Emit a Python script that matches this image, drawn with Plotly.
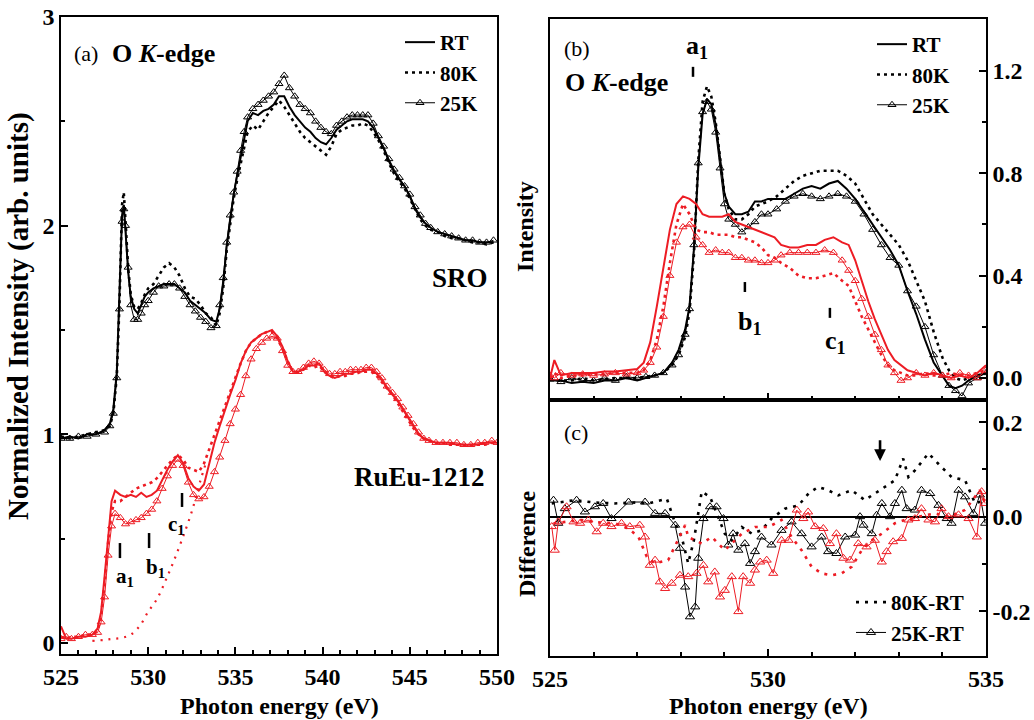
import plotly.graph_objects as go

# ---------------- Panel (a) : O K-edge, SRO (black) and RuEu-1212 (red) ----------------
a_sro_x = [525.0, 525.5, 526.0, 526.5, 527.0, 527.5, 527.8, 528.0, 528.2, 528.35,
           528.5, 528.6, 528.7, 528.85, 529.0, 529.2, 529.4, 529.6, 529.8, 530.0,
           530.3, 530.6, 530.9, 531.2, 531.5, 531.8, 532.1, 532.4, 532.7, 533.0,
           533.3, 533.6, 533.9, 534.1, 534.3, 534.5, 534.7, 534.9, 535.1, 535.3,
           535.5, 535.7, 536.0, 536.3, 536.6, 536.9, 537.2, 537.5, 537.8, 538.1,
           538.4, 538.7, 539.0, 539.3, 539.6, 539.9, 540.2, 540.5, 540.8, 541.1,
           541.4, 541.7, 542.0, 542.3, 542.6, 542.9, 543.2, 543.5, 543.8, 544.1,
           544.4, 544.7, 545.0, 545.3, 545.6, 545.9, 546.2, 546.6, 547.0, 547.4,
           547.8, 548.2, 548.6, 549.0, 549.4, 549.8]
a_sro_rt = [0.98, 0.99, 0.98, 1.00, 1.00, 1.02, 1.05, 1.12, 1.30, 1.65,
            2.05, 2.10, 1.98, 1.78, 1.66, 1.60, 1.58, 1.62, 1.66, 1.68,
            1.70, 1.71, 1.72, 1.72, 1.72, 1.70, 1.68, 1.64, 1.62, 1.60,
            1.58, 1.55, 1.54, 1.60, 1.72, 1.90, 2.04, 2.15, 2.24, 2.33,
            2.42, 2.50, 2.54, 2.53, 2.55, 2.56, 2.58, 2.62, 2.62, 2.57,
            2.53, 2.50, 2.47, 2.45, 2.42, 2.40, 2.39, 2.42, 2.46, 2.48,
            2.50, 2.51, 2.51, 2.51, 2.50, 2.47, 2.42, 2.37, 2.31, 2.26,
            2.22, 2.19, 2.14, 2.08, 2.04, 2.01, 1.99, 1.97, 1.96, 1.95,
            1.94, 1.93, 1.93, 1.92, 1.92, 1.92]
a_sro_80 = [0.99, 0.98, 0.99, 1.00, 1.01, 1.02, 1.04, 1.10, 1.28, 1.62,
            2.10, 2.16, 2.02, 1.80, 1.67, 1.61, 1.60, 1.63, 1.67, 1.70,
            1.72, 1.76, 1.80, 1.82, 1.80, 1.76, 1.70, 1.66, 1.65, 1.62,
            1.58, 1.56, 1.52, 1.58, 1.70, 1.88, 2.02, 2.13, 2.22, 2.30,
            2.38, 2.45, 2.48, 2.46, 2.50, 2.54, 2.57, 2.60, 2.57, 2.53,
            2.49, 2.45, 2.42, 2.40, 2.38, 2.36, 2.34, 2.38, 2.44, 2.46,
            2.47, 2.48, 2.48, 2.49, 2.48, 2.45, 2.41, 2.36, 2.30, 2.25,
            2.21, 2.18, 2.13, 2.08, 2.03, 2.00, 1.98, 1.97, 1.95, 1.94,
            1.94, 1.93, 1.92, 1.92, 1.91, 1.92]
a_sro_25 = [0.98, 0.98, 0.99, 0.99, 1.00, 1.01, 1.04, 1.10, 1.27, 1.60,
            2.02, 2.08, 2.00, 1.80, 1.62, 1.55, 1.55, 1.58, 1.62, 1.64,
            1.68, 1.71, 1.71, 1.72, 1.72, 1.70, 1.66, 1.62, 1.59, 1.56,
            1.54, 1.51, 1.52, 1.62, 1.75, 1.92, 2.05, 2.16, 2.26, 2.36,
            2.45, 2.52, 2.56, 2.58, 2.60, 2.62, 2.64, 2.68, 2.72, 2.66,
            2.62, 2.58, 2.56, 2.54, 2.50, 2.47, 2.45, 2.44, 2.48, 2.50,
            2.52, 2.53, 2.53, 2.53, 2.53, 2.49, 2.43, 2.38, 2.32, 2.27,
            2.23, 2.19, 2.15, 2.09, 2.05, 2.01, 1.99, 1.97, 1.96, 1.95,
            1.94, 1.93, 1.93, 1.92, 1.92, 1.93]

a_ru_x = [525.0, 525.3, 525.6, 526.0, 526.4, 526.8, 527.1, 527.3, 527.5, 527.7,
          527.9, 528.1, 528.4, 528.7, 529.0, 529.3, 529.6, 529.9, 530.2, 530.5,
          530.8, 531.1, 531.4, 531.7, 532.0, 532.3, 532.6, 532.9, 533.2, 533.5,
          533.8, 534.1, 534.4, 534.7, 535.0, 535.3, 535.6, 535.9, 536.2, 536.5,
          536.8, 537.1, 537.4, 537.7, 538.0, 538.3, 538.6, 538.9, 539.2, 539.5,
          539.8, 540.1, 540.4, 540.7, 541.0, 541.3, 541.6, 541.9, 542.2, 542.5,
          542.8, 543.1, 543.4, 543.7, 544.0, 544.3, 544.6, 544.9, 545.2, 545.5,
          545.8, 546.1, 546.5, 546.9, 547.3, 547.7, 548.1, 548.5, 548.9, 549.3,
          549.7, 550.0]
a_ru_rt = [0.08, 0.02, 0.02, 0.03, 0.03, 0.04, 0.07, 0.15, 0.32, 0.52,
           0.68, 0.73, 0.71, 0.70, 0.71, 0.70, 0.72, 0.70, 0.71, 0.73,
           0.78, 0.83, 0.87, 0.90, 0.86, 0.79, 0.75, 0.73, 0.76, 0.86,
           0.96, 1.04, 1.12, 1.19, 1.26, 1.34, 1.40, 1.44, 1.46, 1.48,
           1.49, 1.50, 1.47, 1.42, 1.35, 1.30, 1.30, 1.31, 1.33, 1.33,
           1.34, 1.30, 1.28, 1.27, 1.28, 1.29, 1.29, 1.30, 1.30, 1.31,
           1.31, 1.29, 1.26, 1.22, 1.19, 1.16, 1.12, 1.08, 1.04, 1.00,
           0.98, 0.97, 0.96, 0.96, 0.96, 0.95, 0.95, 0.95, 0.95, 0.96,
           0.96, 0.96]
a_ru_80 = [0.03, 0.02, 0.03, 0.03, 0.04, 0.04, 0.06, 0.13, 0.28, 0.48,
           0.63, 0.68, 0.68, 0.70, 0.72, 0.74, 0.75, 0.76, 0.77, 0.79,
           0.82, 0.85, 0.88, 0.90, 0.88, 0.84, 0.83, 0.82, 0.86, 0.93,
           1.00, 1.07, 1.13, 1.20, 1.27, 1.34, 1.40, 1.44, 1.46, 1.48,
           1.49, 1.49, 1.46, 1.41, 1.35, 1.30, 1.30, 1.31, 1.33, 1.32,
           1.33, 1.30, 1.28, 1.27, 1.28, 1.28, 1.29, 1.29, 1.30, 1.30,
           1.30, 1.28, 1.25, 1.22, 1.19, 1.15, 1.11, 1.07, 1.03, 1.00,
           0.98, 0.97, 0.96, 0.96, 0.95, 0.95, 0.95, 0.95, 0.95, 0.95,
           0.96, 0.96]
a_ru_25 = [0.02, 0.03, 0.02, 0.03, 0.04, 0.04, 0.05, 0.10, 0.22, 0.42,
           0.56, 0.62, 0.60, 0.57, 0.58, 0.59, 0.60, 0.62, 0.64, 0.68,
           0.74, 0.80, 0.85, 0.88, 0.85, 0.77, 0.71, 0.69, 0.70, 0.75,
           0.82, 0.89, 0.97, 1.05, 1.12, 1.19, 1.28, 1.36, 1.41, 1.44,
           1.46, 1.47, 1.46, 1.40, 1.33, 1.30, 1.30, 1.32, 1.34, 1.35,
           1.34, 1.31, 1.29, 1.29, 1.30, 1.30, 1.31, 1.31, 1.31, 1.32,
           1.32, 1.30, 1.27, 1.23, 1.20, 1.17, 1.13, 1.09, 1.05, 1.01,
           0.98, 0.97, 0.96, 0.96, 0.96, 0.96, 0.95, 0.95, 0.96, 0.96,
           0.97, 0.96]
a_bg_x = [526.8, 527.5, 528.0, 528.5, 529.0, 529.5, 530.0, 530.5, 531.0, 531.5, 532.0, 532.5, 533.0, 533.3]
a_bg_y = [0.01, 0.015, 0.02, 0.025, 0.04, 0.08, 0.15, 0.21, 0.30, 0.40, 0.51, 0.63, 0.78, 0.86]

# ---------------- Panel (b) : Intensity ----------------
b_blk_x = [525.0, 525.25, 525.5, 525.75, 526.0, 526.25, 526.5, 526.75, 527.0, 527.2,
           527.4, 527.6, 527.8, 527.95, 528.1, 528.2, 528.3, 528.4, 528.5, 528.6,
           528.7, 528.8, 528.9, 529.0, 529.1, 529.25, 529.4, 529.55, 529.7, 529.85,
           530.0, 530.2, 530.4, 530.6, 530.8, 531.0, 531.2, 531.4, 531.6, 531.8,
           532.0, 532.2, 532.4, 532.6, 532.8, 533.0, 533.2, 533.4, 533.6, 533.8,
           534.0, 534.15, 534.3, 534.45, 534.6, 534.8, 535.0]
b_blk_rt = [-0.01, -0.01, -0.02, -0.015, -0.02, -0.01, -0.01, 0.0, -0.01, 0.0,
            0.01, 0.02, 0.06, 0.11, 0.19, 0.28, 0.50, 0.82, 1.03, 1.09,
            1.07, 0.99, 0.86, 0.72, 0.67, 0.64, 0.64, 0.65, 0.69, 0.69,
            0.70, 0.70, 0.70, 0.72, 0.74, 0.75, 0.74, 0.76, 0.77, 0.74,
            0.70, 0.65, 0.60, 0.55, 0.50, 0.44, 0.34, 0.25, 0.15, 0.06,
            0.01, -0.03, -0.04, -0.03, -0.01, 0.01, 0.02]
b_blk_80 = [-0.005, -0.01, -0.01, 0.0, -0.01, -0.005, 0.0, 0.0, 0.0, 0.005,
            0.01, 0.02, 0.05, 0.09, 0.16, 0.26, 0.48, 0.85, 1.08, 1.14,
            1.10, 1.00, 0.86, 0.72, 0.66, 0.62, 0.62, 0.64, 0.67, 0.68,
            0.69, 0.71, 0.74, 0.77, 0.79, 0.80, 0.81, 0.81, 0.81, 0.79,
            0.76, 0.70, 0.64, 0.60, 0.56, 0.52, 0.46, 0.38, 0.30, 0.18,
            0.08, 0.03, 0.0, -0.01, 0.0, 0.01, 0.02]
b_blk_25 = [-0.005, -0.015, 0.0, -0.01, -0.01, 0.0, -0.01, 0.005, 0.0, 0.005,
            0.01, 0.02, 0.05, 0.09, 0.17, 0.27, 0.52, 0.84, 1.04, 1.08,
            1.05, 0.96, 0.82, 0.68, 0.62, 0.60, 0.57, 0.59, 0.61, 0.64,
            0.64, 0.66, 0.69, 0.71, 0.72, 0.71, 0.70, 0.71, 0.72, 0.71,
            0.69, 0.64, 0.58, 0.52, 0.47, 0.44, 0.34, 0.28, 0.20, 0.09,
            0.01, -0.03, -0.05, -0.07, -0.02, 0.0, 0.02]

b_red_x = [525.0, 525.1, 525.25, 525.5, 525.75, 526.0, 526.25, 526.5, 526.75, 527.0,
           527.15, 527.3, 527.45, 527.6, 527.75, 527.9, 528.05, 528.2, 528.35, 528.5,
           528.65, 528.8, 528.95, 529.1, 529.25, 529.4, 529.55, 529.7, 529.85, 530.0,
           530.15, 530.3, 530.5, 530.7, 530.9, 531.1, 531.3, 531.5, 531.7, 531.85,
           532.0, 532.15, 532.3, 532.45, 532.6, 532.75, 532.9, 533.05, 533.2, 533.4,
           533.6, 533.8, 534.0, 534.2, 534.4, 534.6, 534.8, 535.0]
b_red_rt = [0.0, 0.07, 0.01, 0.02, 0.02, 0.02, 0.025, 0.025, 0.03, 0.035,
            0.06, 0.14, 0.28, 0.43, 0.58, 0.68, 0.71, 0.70, 0.68, 0.64,
            0.63, 0.63, 0.63, 0.64, 0.61, 0.60, 0.59, 0.58, 0.57, 0.56,
            0.55, 0.52, 0.51, 0.51, 0.52, 0.52, 0.54, 0.55, 0.53, 0.52,
            0.46, 0.38, 0.30, 0.23, 0.17, 0.11, 0.07, 0.05, 0.03, 0.02,
            0.01, 0.02, 0.01, 0.0, 0.01, 0.0, 0.02, 0.05]
b_red_80 = [0.0, 0.02, 0.0, 0.01, 0.01, 0.015, 0.015, 0.02, 0.02, 0.02,
            0.03, 0.07, 0.15, 0.28, 0.45, 0.60, 0.68, 0.64, 0.58, 0.57,
            0.57, 0.56, 0.56, 0.56, 0.55, 0.55, 0.54, 0.53, 0.51, 0.48,
            0.47, 0.45, 0.43, 0.40, 0.39, 0.39, 0.40, 0.41, 0.38, 0.36,
            0.30, 0.24, 0.19, 0.14, 0.09, 0.05, 0.03, 0.02, 0.01, 0.01,
            0.02, 0.01, 0.01, 0.02, 0.01, 0.01, 0.02, 0.03]
b_red_25 = [0.01, 0.0, 0.02, 0.01, 0.015, 0.01, 0.015, 0.02, 0.015, 0.02,
            0.03, 0.06, 0.12, 0.24, 0.40, 0.53, 0.59, 0.60, 0.55, 0.52,
            0.49, 0.50, 0.49, 0.49, 0.47, 0.47, 0.46, 0.46, 0.45, 0.45,
            0.46, 0.48, 0.49, 0.49, 0.49, 0.49, 0.50, 0.49, 0.46, 0.42,
            0.38, 0.31, 0.24, 0.17, 0.11, 0.05, 0.02, -0.01, 0.0, 0.02,
            0.01, 0.02, 0.01, 0.0, 0.02, 0.01, 0.0, 0.03]

# ---------------- Panel (c) : Difference ----------------
c_blk80_x = [525.04, 525.57, 526.0, 526.49, 526.9, 527.26, 527.68, 527.87, 528.02, 528.17,
             528.3, 528.48, 528.67, 528.86, 529.01, 529.17, 529.4, 529.63, 529.85, 530.08,
             530.39, 530.7, 530.93, 531.15, 531.38, 531.61, 531.92, 532.22, 532.45, 532.68,
             532.91, 533.1, 533.22, 533.37, 533.68, 533.98, 534.21, 534.52, 534.75, 534.98]
c_blk80_y = [0.028, 0.035, 0.03, 0.028, 0.03, 0.028, 0.038, -0.014, -0.043, -0.099,
             -0.05, 0.053, 0.042, 0.0, -0.036, -0.05, -0.022, -0.036, -0.029, -0.004,
             0.017, 0.024, 0.049, 0.063, 0.056, 0.045, 0.056, 0.035, 0.049, 0.063,
             0.077, 0.123, 0.084, 0.098, 0.134, 0.105, 0.084, 0.077, 0.028, 0.035]
c_blk25_x = [525.08, 525.19, 525.34, 525.61, 525.80, 526.03, 526.22, 526.41, 526.80, 527.18,
             527.41, 527.64, 527.87, 527.98, 528.10, 528.21, 528.33, 528.40, 528.52, 528.67,
             528.82, 528.98, 529.09, 529.20, 529.32, 529.47, 529.59, 529.70, 529.85, 530.08,
             530.31, 530.54, 530.77, 531.0, 531.23, 531.38, 531.57, 531.77, 532.0, 532.11,
             532.19, 532.38, 532.49, 532.61, 532.80, 532.91, 533.07, 533.18, 533.37, 533.52,
             533.72, 533.91, 534.10, 534.21, 534.37, 534.52, 534.71, 534.86, 534.98]
c_blk25_y = [0.035, -0.014, 0.017, 0.035, 0.01, 0.021, 0.028, -0.004, 0.031, 0.031,
             0.007, 0.007, -0.018, -0.067, -0.149, -0.212, -0.191, -0.088, -0.004, 0.021,
             0.021, -0.004, -0.06, -0.036, -0.071, -0.057, -0.099, -0.074, -0.043, -0.06,
             -0.029, -0.011, -0.036, -0.064, -0.043, -0.074, -0.078, -0.043, -0.039, 0.0,
             -0.018, -0.036, 0.003, 0.028, 0.0, 0.028, 0.056, 0.017, 0.014, 0.056,
             0.049, 0.024, -0.004, -0.014, 0.056, 0.042, 0.007, 0.046, -0.014]
c_red80_x = [525.08, 525.4, 525.73, 526.1, 526.49, 526.8, 527.03, 527.22, 527.41, 527.71,
             527.94, 528.10, 528.17, 528.48, 528.71, 529.01, 529.40, 529.70, 530.01, 530.31,
             530.54, 530.77, 531.0, 531.23, 531.46, 531.69, 531.92, 532.15, 532.38, 532.61,
             532.91, 533.14, 533.45, 533.83, 534.14, 534.52, 534.86, 534.98]
c_red80_y = [-0.014, -0.01, -0.007, -0.012, -0.014, -0.025, -0.043, -0.085, -0.099, -0.092,
             -0.05, -0.018, -0.043, -0.057, -0.043, -0.071, -0.036, -0.022, -0.022, -0.007,
             -0.043, -0.071, -0.106, -0.12, -0.124, -0.12, -0.106, -0.071, -0.05, -0.036,
             -0.014, -0.007, 0.0, 0.007, 0.0, 0.014, 0.056, 0.028]
c_red25_x = [525.04, 525.11, 525.19, 525.38, 525.54, 525.69, 525.88, 526.07, 526.22, 526.41,
             526.64, 526.83, 527.06, 527.18, 527.29, 527.41, 527.52, 527.64, 527.79, 527.98,
             528.17, 528.36, 528.52, 528.63, 528.78, 528.90, 529.01, 529.17, 529.32, 529.43,
             529.59, 529.70, 529.82, 529.97, 530.12, 530.31, 530.47, 530.66, 530.81, 530.92,
             531.08, 531.27, 531.42, 531.57, 531.73, 531.88, 532.07, 532.26, 532.45, 532.61,
             532.72, 532.87, 533.07, 533.22, 533.37, 533.52, 533.68, 533.83, 533.98, 534.14,
             534.37, 534.60, 534.79, 534.90, 534.98]
c_red25_y = [-0.021, -0.071, -0.011, 0.021, -0.011, -0.014, -0.007, -0.032, -0.014, -0.021,
             -0.014, -0.021, -0.018, -0.043, -0.103, -0.092, -0.138, -0.152, -0.141, -0.124,
             -0.127, -0.12, -0.103, -0.138, -0.117, -0.17, -0.156, -0.127, -0.201, -0.127,
             -0.141, -0.113, -0.096, -0.092, -0.12, -0.05, -0.05, 0.014, -0.004, 0.01,
             -0.021, -0.025, -0.057, -0.036, -0.088, -0.092, -0.057, -0.064, -0.05, -0.096,
             -0.074, -0.053, -0.046, -0.007, -0.004, 0.017, -0.007, -0.011, 0.017, 0.0,
             0.004, -0.004, -0.043, 0.053, 0.028]

# ---------------- Tick labels ----------------
a_xticks = [525, 530, 535, 540, 545, 550]
a_yticks = [0, 1, 2, 3]
b_xticks = [525, 530, 535]
b_yticks = [0.0, 0.4, 0.8, 1.2]
b_yticktext = ["0.0", "0.4", "0.8", "1.2"]
c_yticks = [-0.2, 0.0, 0.2]
c_yticktext = ["-0.2", "0.0", "0.2"]

# ---------------- Styling ----------------
FONT = "Liberation Serif"
BLACK = "#000000"
RED = "#ED1C24"

W, H = 1034, 720
ML, MR, MT, MB = 61, 48, 17, 64
PW, PH = W - ML - MR, H - MT - MB


def px(x):
    return (x - ML) / PW


def py(y):
    return (H - MB - y) / PH


fig = go.Figure()


def add_set(x, rt, k80, k25, color, xa, ya, legend, show):
    fig.add_trace(go.Scatter(x=x, y=rt, mode="lines", name="RT", xaxis=xa, yaxis=ya,
                             line=dict(color=color, width=2), legend=legend, showlegend=show))
    fig.add_trace(go.Scatter(x=x, y=k80, mode="lines", name="80K", xaxis=xa, yaxis=ya,
                             line=dict(color=color, width=2.6, dash="3px,4px"),
                             legend=legend, showlegend=show))
    fig.add_trace(go.Scatter(x=x, y=k25, mode="lines+markers", name="25K", xaxis=xa, yaxis=ya,
                             line=dict(color=color, width=1),
                             marker=dict(symbol="triangle-up-open", size=7, color=color,
                                         line=dict(width=1, color=color)),
                             legend=legend, showlegend=show))


add_set(a_sro_x, a_sro_rt, a_sro_80, a_sro_25, BLACK, "x", "y", "legend", True)
add_set(a_ru_x, a_ru_rt, a_ru_80, a_ru_25, RED, "x", "y", "legend", False)
fig.add_trace(go.Scatter(x=a_bg_x, y=a_bg_y, mode="lines", line=dict(color=RED, width=2.2, dash="2px,6px",
                                                                   shape="spline"),
                         xaxis="x", yaxis="y", showlegend=False))

add_set(b_blk_x, b_blk_rt, b_blk_80, b_blk_25, BLACK, "x2", "y2", "legend2", True)
add_set(b_red_x, b_red_rt, b_red_80, b_red_25, RED, "x2", "y2", "legend2", False)

fig.add_trace(go.Scatter(x=c_blk80_x, y=c_blk80_y, mode="lines", name="80K-RT", xaxis="x3", yaxis="y3",
                         line=dict(color=BLACK, width=2.6, dash="3px,6px"), legend="legend3"))
fig.add_trace(go.Scatter(x=c_blk25_x, y=c_blk25_y, mode="lines+markers", name="25K-RT", xaxis="x3", yaxis="y3",
                         line=dict(color=BLACK, width=1),
                         marker=dict(symbol="triangle-up-open", size=8, color=BLACK, line=dict(width=1, color=BLACK)),
                         legend="legend3"))
fig.add_trace(go.Scatter(x=c_red80_x, y=c_red80_y, mode="lines", xaxis="x3", yaxis="y3",
                         line=dict(color=RED, width=2.6, dash="3px,6px"), showlegend=False))
fig.add_trace(go.Scatter(x=c_red25_x, y=c_red25_y, mode="lines+markers", xaxis="x3", yaxis="y3",
                         line=dict(color=RED, width=1),
                         marker=dict(symbol="triangle-up-open", size=8, color=RED, line=dict(width=1, color=RED)),
                         showlegend=False))

tickfont = dict(family=FONT, size=24, color=BLACK, weight="bold")
axis_common = dict(showline=True, linecolor=BLACK, linewidth=1.6, mirror=True, ticks="inside",
                   ticklen=7, tickwidth=1.5, tickcolor=BLACK, showgrid=False, zeroline=False,
                   tickfont=tickfont, automargin=False)


def minor(vals, ln=4):
    return dict(tickmode="array", tickvals=vals, ticks="inside", ticklen=ln, tickwidth=1.5,
                tickcolor=BLACK, showgrid=False)


legend_font = dict(family=FONT, size=21, color=BLACK, weight="bold")

fig.update_layout(
    width=W, height=H, margin=dict(l=ML, r=MR, t=MT, b=MB),
    paper_bgcolor="white", plot_bgcolor="white",
    font=dict(family=FONT, color=BLACK),
    xaxis=dict(domain=[0, px(497)], range=[525, 550], anchor="y", tickmode="array",
               tickvals=a_xticks, ticktext=[str(v) for v in a_xticks],
               minor=minor([v for v in range(526, 550) if v % 5 != 0]), **axis_common),
    yaxis=dict(domain=[py(654), 1], range=[-0.0527, 3], anchor="x", tickmode="array",
               tickvals=a_yticks, ticktext=[str(v) for v in a_yticks],
               minor=minor([0.5, 1.5, 2.5]), **axis_common),
    xaxis2=dict(domain=[px(550), 1], range=[525, 535], anchor="y2", tickmode="array",
                tickvals=b_xticks, showticklabels=False,
                minor=minor([v for v in range(526, 535) if v != 530]), **axis_common),
    yaxis2=dict(domain=[py(400), py(19)], range=[-0.086, 1.403], anchor="x2", side="right",
                tickmode="array", tickvals=b_yticks, ticktext=b_yticktext,
                minor=minor([0.2, 0.6, 1.0]), **axis_common),
    xaxis3=dict(domain=[px(550), 1], range=[525, 535], anchor="y3", tickmode="array",
                tickvals=b_xticks, ticktext=[str(v) for v in b_xticks],
                minor=minor([v for v in range(526, 535) if v != 530]), **axis_common),
    yaxis3=dict(domain=[0, py(400)], range=[-0.295, 0.247], anchor="x3", side="right",
                tickmode="array", tickvals=c_yticks, ticktext=c_yticktext,
                minor=minor([-0.1, 0.1]), **{**axis_common, "zeroline": True},
                zerolinecolor=BLACK, zerolinewidth=2),
    legend=dict(x=px(400), y=py(22), xanchor="left", yanchor="top", bgcolor="rgba(0,0,0,0)",
                font=legend_font, itemwidth=30, tracegroupgap=0),
    legend2=dict(x=px(872), y=py(24), xanchor="left", yanchor="top", bgcolor="rgba(0,0,0,0)",
                 font=legend_font, itemwidth=30, tracegroupgap=0),
    legend3=dict(x=px(851), y=py(582), xanchor="left", yanchor="top", bgcolor="rgba(0,0,0,0)",
                 font=legend_font, itemwidth=30, tracegroupgap=0),
)


def ann(text, x, y, size, bold=True, xanchor="center", angle=0):
    fig.add_annotation(text=text, x=px(x), y=py(y), xref="paper", yref="paper", showarrow=False,
                       xanchor=xanchor, yanchor="middle", textangle=angle,
                       font=dict(family=FONT, size=size, color=BLACK, weight="bold" if bold else "normal"))


# panel labels and titles
ann("(a)", 72, 53, 22, bold=False, xanchor="left")
ann("O <i>K</i>-edge", 110, 53, 26, xanchor="left")
ann("SRO", 460, 278, 27)
ann("RuEu-1212", 419, 477, 27)
ann("a<sub>1</sub>", 125, 577, 21)
ann("b<sub>1</sub>", 155, 568, 21)
ann("c<sub>1</sub>", 176, 525, 21)
ann("(b)", 562, 48, 22, bold=False, xanchor="left")
ann("O <i>K</i>-edge", 563, 82, 26, xanchor="left")
ann("a<sub>1</sub>", 697, 47, 26)
ann("b<sub>1</sub>", 750, 323, 26)
ann("c<sub>1</sub>", 835, 342, 26)
ann("(c)", 562, 432, 22, bold=False, xanchor="left")
ann("Photon energy (eV)", (ML + 497) / 2, 706, 24)
ann("Photon energy (eV)", (550 + W - MR) / 2, 706, 24)
ann("Normalized Intensity (arb. units)", 18, 316, 29, angle=-90)
ann("Intensity", 525, 227, 24, angle=-90)
ann("Difference", 527, 544, 24, angle=-90)

# arrow in panel (c)
fig.add_annotation(x=532.57, y=0.118, ax=532.57, ay=0.165, xref="x3", yref="y3", axref="x3", ayref="y3",
                   showarrow=True, arrowhead=2, arrowsize=0.9, arrowwidth=2.6, arrowcolor=BLACK, text="")

# feature tick marks
for xr, yr, xv, y0, y1 in [("x", "y", 528.38, 0.407, 0.479), ("x", "y", 530.05, 0.455, 0.527),
                           ("x", "y", 531.94, 0.652, 0.719), ("x2", "y2", 528.28, 1.177, 1.216),
                           ("x2", "y2", 529.47, 0.336, 0.375), ("x2", "y2", 531.42, 0.235, 0.274)]:
    fig.add_shape(type="line", xref=xr, yref=yr, x0=xv, x1=xv, y0=y0, y1=y1,
                  line=dict(color=BLACK, width=2.5))

fig.write_html("out.html", config={"displayModeBar": False},
               post_script="document.body.style.margin='0px';document.body.style.overflow='hidden';")
